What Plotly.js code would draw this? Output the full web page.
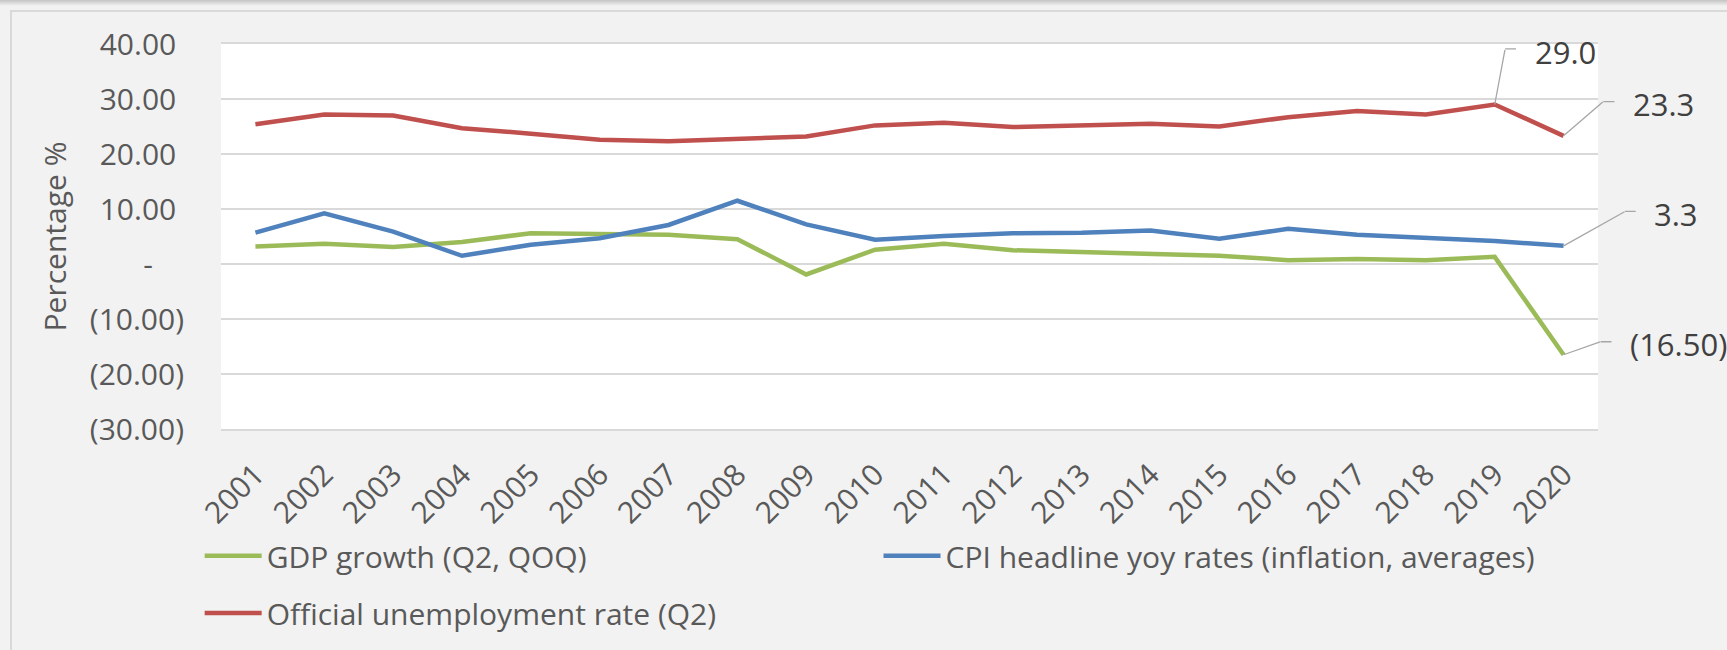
<!DOCTYPE html>
<html><head><meta charset="utf-8">
<script src="https://cdn.plot.ly/plotly-3.0.1.min.js"></script>
<style>
html,body{margin:0;padding:0;background:#f2f2f2;width:1727px;height:650px;overflow:hidden;}
#shade{position:absolute;left:0;top:0;width:1727px;height:6px;background:linear-gradient(#c4c4c4,#f2f2f2);}
#frame{position:absolute;left:10px;top:10px;width:1740px;height:660px;border-left:2px solid #d9d9d9;border-top:2px solid #d9d9d9;}
#chart{position:absolute;left:0;top:0;width:1727px;height:650px;}
</style></head><body>
<div id="shade"></div><div id="frame"></div><div id="chart"></div>
<script>
const years = [2001,2002,2003,2004,2005,2006,2007,2008,2009,2010,2011,2012,2013,2014,2015,2016,2017,2018,2019,2020];
const yearLabels = years.map(String);
const gdpGrowth = [3.2,3.7,3.1,4.0,5.6,5.4,5.3,4.5,-1.9,2.6,3.7,2.5,2.2,1.7,1.5,0.7,0.9,0.7,1.3,-16.5];
const cpiInflation = [5.7,9.2,5.9,1.5,3.5,4.7,7.1,11.5,7.2,4.4,5.1,5.6,5.7,6.1,4.6,6.4,5.3,4.8,4.2,3.3];
const unemployment = [25.4,27.2,27.0,24.7,23.7,22.6,22.3,22.7,23.2,25.2,25.7,24.9,25.3,25.5,25.0,26.7,27.8,27.2,29.0,23.3];
const seriesNames = ['GDP growth (Q2, QOQ)','CPI headline yoy rates (inflation, averages)','Official unemployment rate (Q2)'];
const yTickVals = [40,30,20,10,0,-10,-20,-30];
const yTickText = ['40.00\u00a0','30.00\u00a0','20.00\u00a0','10.00\u00a0','-\u00a0\u00a0\u00a0\u00a0','(10.00)','(20.00)','(30.00)'];

const FONT = '"Open Sans", Lato, sans-serif';
const TXT = '#595959';
const colors = {gdp:'#9bbb59', cpi:'#4f81bd', unemp:'#c0504d'};

const traces = [
  {x:years, y:gdpGrowth, name:seriesNames[0], type:'scatter', mode:'lines', line:{color:colors.gdp,width:4.5}, legend:'legend'},
  {x:years, y:cpiInflation, name:seriesNames[1], type:'scatter', mode:'lines', line:{color:colors.cpi,width:4.5}, legend:'legend2'},
  {x:years, y:unemployment, name:seriesNames[2], type:'scatter', mode:'lines', line:{color:colors.unemp,width:4.5}, legend:'legend3'}
];

function fmtAcc(v){ return v < 0 ? '(' + Math.abs(v).toFixed(2) + ')' : v.toFixed(2); }
const last = years.length - 1;
// data labels with elbow leader lines (offsets in px: right / up from the point)
const labels = [
  {x:years[last-1], y:unemployment[last-1], text:unemployment[last-1].toFixed(1), dx:38, dy:53, ex:10.4, ey:55.6, hl:11.4},
  {x:years[last], y:unemployment[last], text:unemployment[last].toFixed(1), dx:67, dy:32, ex:39.7, ey:34.3, hl:11.7},
  {x:years[last], y:cpiInflation[last], text:cpiInflation[last].toFixed(1), dx:88, dy:32, ex:61.5, ey:34.4, hl:11.1},
  {x:years[last], y:gdpGrowth[last], text:fmtAcc(gdpGrowth[last]), dx:64, dy:11, ex:37, ey:13, hl:11.4}
];
const leaderStyle = {showarrow:true, arrowhead:0, arrowwidth:1.3, arrowcolor:'#a6a6a6', standoff:0, startstandoff:0,
  text:' ', font:{size:1, color:'rgba(0,0,0,0)'}, borderpad:0, axref:'pixel', ayref:'pixel'};
const annotations = [];
labels.forEach(l => {
  annotations.push(Object.assign({}, leaderStyle, {x:l.x, y:l.y, xref:'x', yref:'y', ax:l.ex, ay:-l.ey}));
  annotations.push(Object.assign({}, leaderStyle, {x:l.x, y:l.y, xref:'x', yref:'y', xshift:l.ex, yshift:l.ey, ax:l.hl, ay:0}));
  annotations.push({x:l.x, y:l.y, xref:'x', yref:'y', text:l.text, showarrow:false,
    xanchor:'left', yanchor:'middle', xshift:l.dx, yshift:l.dy,
    font:{family:FONT, size:31, color:'#404040'}});
});

const legendBase = {orientation:'h', xanchor:'left', yanchor:'middle', bgcolor:'rgba(0,0,0,0)', itemwidth:57,
  font:{family:FONT, size:30, color:TXT}};
const layout = {
  width:1727, height:650,
  margin:{l:221, r:129, t:44, b:220},
  paper_bgcolor:'rgba(0,0,0,0)', plot_bgcolor:'#ffffff',
  font:{family:FONT, size:30, color:TXT},
  showlegend:true,
  legend:Object.assign({}, legendBase, {x:-0.0155, y:-0.326}),
  legend2:Object.assign({}, legendBase, {x:0.4775, y:-0.326}),
  legend3:Object.assign({}, legendBase, {x:-0.0155, y:-0.474}),
  xaxis:{
    range:[2000.5, 2020.5], tickvals:years, ticktext:yearLabels, tickangle:-45,
    showgrid:false, zeroline:false, showline:true, mirror:true, linecolor:'#d9d9d9', linewidth:2,
    ticks:'outside', ticklen:14, tickcolor:'rgba(0,0,0,0)',
    tickfont:{family:FONT, size:30, color:TXT}, fixedrange:true
  },
  yaxis:{
    range:[-30, 40], tickvals:yTickVals, ticktext:yTickText,
    showgrid:true, gridcolor:'#d9d9d9', gridwidth:1.5, zeroline:false,
    ticks:'outside', ticklen:30, tickcolor:'rgba(0,0,0,0)',
    tickfont:{family:FONT, size:30, color:TXT},
    title:{text:'Percentage %', font:{family:FONT, size:30, color:TXT}, standoff:14},
    fixedrange:true
  },
  annotations:annotations
};
Plotly.newPlot('chart', traces, layout, {displayModeBar:false, staticPlot:true});
</script>
</body></html>
